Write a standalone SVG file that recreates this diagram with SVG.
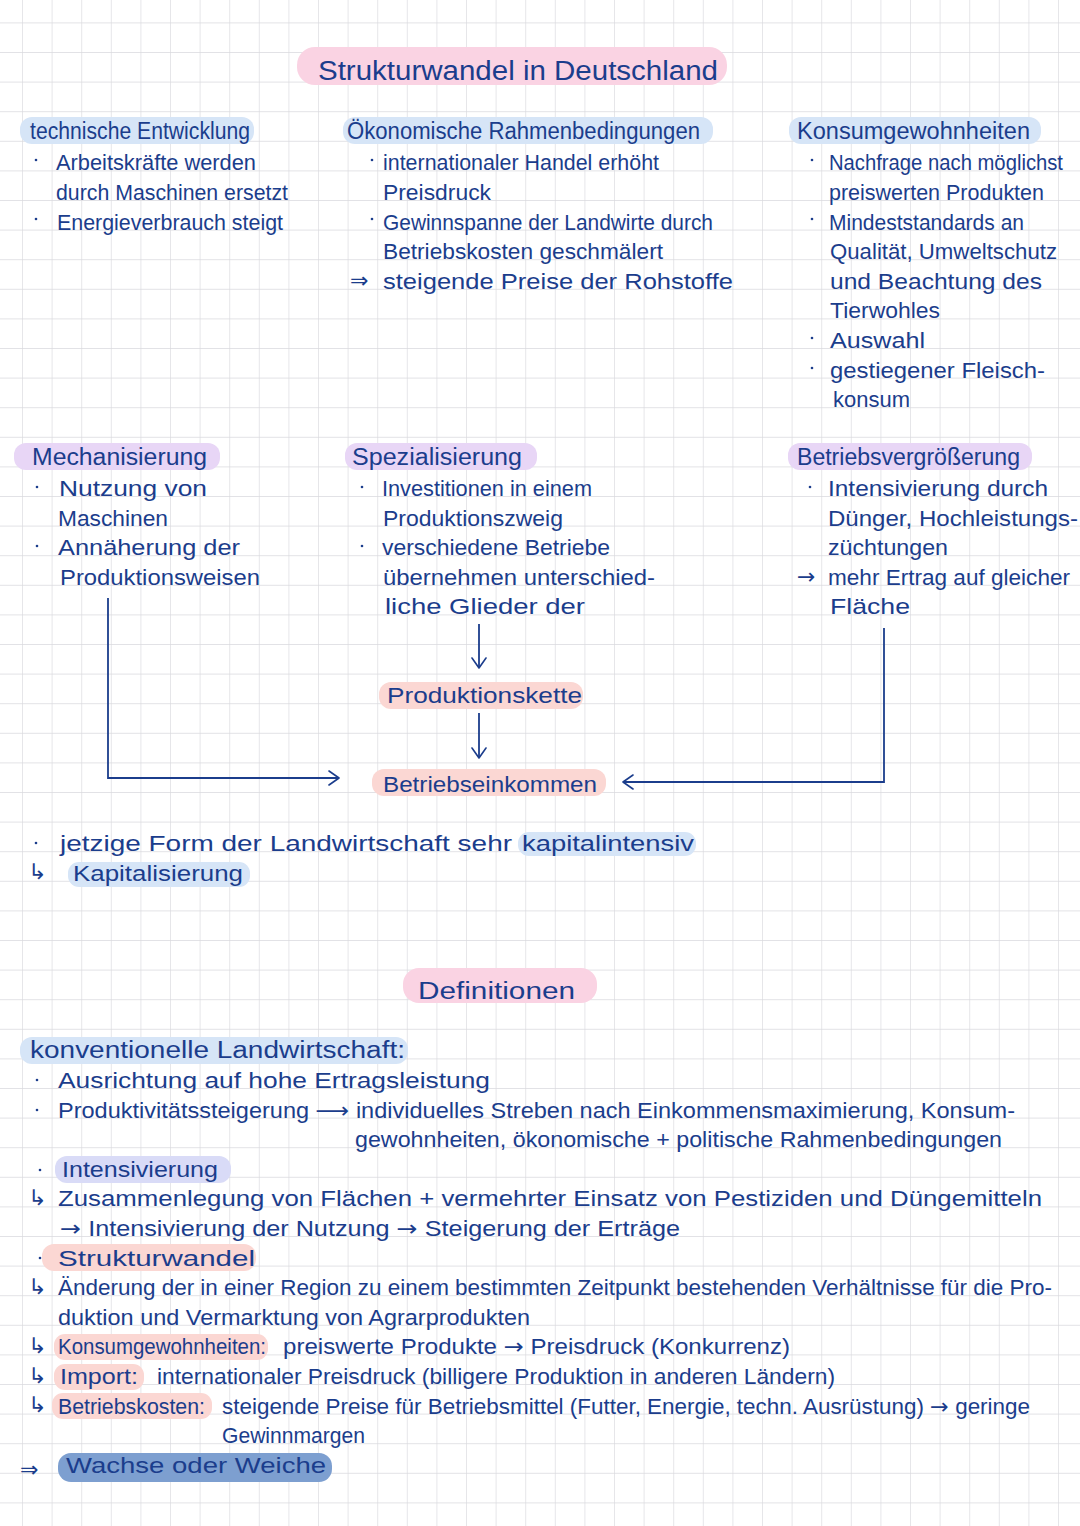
<svg xmlns="http://www.w3.org/2000/svg" width="1080" height="1526" viewBox="0 0 1080 1526">
<defs>
<pattern id="grid" x="22" y="22.4" width="29.6" height="29.6" patternUnits="userSpaceOnUse">
<path d="M0,0 H29.6 M0,0 V29.6" fill="none" stroke="#d9d9de" stroke-width="1.3"/>
</pattern>
<marker id="chev" viewBox="0 0 12 16" refX="11" refY="8" markerWidth="12" markerHeight="16" markerUnits="userSpaceOnUse" orient="auto">
<path d="M1,1 L11,8 L1,15" fill="none" stroke="#1b3d8c" stroke-width="1.6" stroke-linecap="round" stroke-linejoin="round"/>
</marker>
<style>
.t{font-family:"Liberation Sans","DejaVu Sans",sans-serif;fill:#1b3d8c;font-size:22px}
.h{font-size:23px}
.ti{font-size:27px}
.ar{font-family:"DejaVu Sans",sans-serif}
.pink{fill:#fad3e3}
.blue{fill:#d6e5f7}
.purple{fill:#e8d6f6}
.salmon{fill:#fbd7d3}
.lav{fill:#d9dbf7}
.dark{fill:#7d9fd0}
.dot{fill:#1b3d8c}
.conn{fill:none;stroke:#1b3d8c;stroke-width:1.8}
</style>
</defs>
<rect width="1080" height="1526" fill="#ffffff"/>
<rect width="1080" height="1526" fill="url(#grid)"/>

<g id="title">
<rect class="pink" x="297" y="47" width="430" height="38" rx="18"/>
<text class="t ti" x="318" y="80" textLength="400" lengthAdjust="spacingAndGlyphs">Strukturwandel in Deutschland</text>
</g>

<g id="technische-entwicklung">
<rect class="blue" x="20" y="117" width="234" height="27" rx="12"/>
<text class="t h" x="30" y="139" textLength="220" lengthAdjust="spacingAndGlyphs">technische Entwicklung</text>
<circle class="dot" cx="36" cy="160" r="1.3"/>
<text class="t" x="56" y="170.4" textLength="200" lengthAdjust="spacingAndGlyphs">Arbeitskräfte werden</text>
<text class="t" x="56" y="200" textLength="232" lengthAdjust="spacingAndGlyphs">durch Maschinen ersetzt</text>
<circle class="dot" cx="36" cy="219" r="1.3"/>
<text class="t" x="57" y="229.6" textLength="226" lengthAdjust="spacingAndGlyphs">Energieverbrauch steigt</text>
</g>

<g id="oekonomische-rahmenbedingungen">
<rect class="blue" x="343" y="117" width="370" height="27" rx="12"/>
<text class="t h" x="347" y="139" textLength="353" lengthAdjust="spacingAndGlyphs">Ökonomische Rahmenbedingungen</text>
<circle class="dot" cx="372" cy="160" r="1.3"/>
<text class="t" x="383" y="170.4" textLength="276" lengthAdjust="spacingAndGlyphs">internationaler Handel erhöht</text>
<text class="t" x="383" y="200" textLength="108" lengthAdjust="spacingAndGlyphs">Preisdruck</text>
<circle class="dot" cx="372" cy="219" r="1.3"/>
<text class="t" x="383" y="229.6" textLength="330" lengthAdjust="spacingAndGlyphs">Gewinnspanne der Landwirte durch</text>
<text class="t" x="383" y="259.2" textLength="280" lengthAdjust="spacingAndGlyphs">Betriebskosten geschmälert</text>
<text class="t ar" x="350" y="288" font-size="26">⇒</text>
<text class="t" x="383" y="288.8" textLength="350" lengthAdjust="spacingAndGlyphs">steigende Preise der Rohstoffe</text>
</g>

<g id="konsumgewohnheiten">
<rect class="blue" x="789" y="117" width="252" height="27" rx="12"/>
<text class="t h" x="797" y="139" textLength="233" lengthAdjust="spacingAndGlyphs">Konsumgewohnheiten</text>
<circle class="dot" cx="812" cy="160" r="1.3"/>
<text class="t" x="829" y="170.4" font-size="20" textLength="234" lengthAdjust="spacingAndGlyphs">Nachfrage nach möglichst</text>
<text class="t" x="829" y="200" textLength="215" lengthAdjust="spacingAndGlyphs">preiswerten Produkten</text>
<circle class="dot" cx="812" cy="219" r="1.3"/>
<text class="t" x="829" y="229.6" textLength="195" lengthAdjust="spacingAndGlyphs">Mindeststandards an</text>
<text class="t" x="830" y="259.2" textLength="227" lengthAdjust="spacingAndGlyphs">Qualität, Umweltschutz</text>
<text class="t" x="830" y="288.8" textLength="212" lengthAdjust="spacingAndGlyphs">und Beachtung des</text>
<text class="t" x="830" y="318.4" textLength="110" lengthAdjust="spacingAndGlyphs">Tierwohles</text>
<circle class="dot" cx="812" cy="338" r="1.3"/>
<text class="t" x="830" y="348" textLength="95" lengthAdjust="spacingAndGlyphs">Auswahl</text>
<circle class="dot" cx="812" cy="368" r="1.3"/>
<text class="t" x="830" y="377.6" textLength="215" lengthAdjust="spacingAndGlyphs">gestiegener Fleisch-</text>
<text class="t" x="833" y="407.2" textLength="77" lengthAdjust="spacingAndGlyphs">konsum</text>
</g>

<g id="mechanisierung">
<rect class="purple" x="14" y="443" width="206" height="27" rx="12"/>
<text class="t h" x="32" y="465" textLength="175" lengthAdjust="spacingAndGlyphs">Mechanisierung</text>
<circle class="dot" cx="37" cy="487" r="1.3"/>
<text class="t" x="59" y="496" textLength="148" lengthAdjust="spacingAndGlyphs">Nutzung von</text>
<text class="t" x="58" y="525.6" textLength="110" lengthAdjust="spacingAndGlyphs">Maschinen</text>
<circle class="dot" cx="37" cy="546" r="1.3"/>
<text class="t" x="58" y="555.2" textLength="182" lengthAdjust="spacingAndGlyphs">Annäherung der</text>
<text class="t" x="60" y="584.8" textLength="200" lengthAdjust="spacingAndGlyphs">Produktionsweisen</text>
</g>

<g id="spezialisierung">
<rect class="purple" x="345" y="443" width="192" height="27" rx="12"/>
<text class="t h" x="352" y="465" textLength="170" lengthAdjust="spacingAndGlyphs">Spezialisierung</text>
<circle class="dot" cx="362" cy="487" r="1.3"/>
<text class="t" x="382" y="496" textLength="210" lengthAdjust="spacingAndGlyphs">Investitionen in einem</text>
<text class="t" x="383" y="525.6" textLength="180" lengthAdjust="spacingAndGlyphs">Produktionszweig</text>
<circle class="dot" cx="362" cy="546" r="1.3"/>
<text class="t" x="382" y="555.2" textLength="228" lengthAdjust="spacingAndGlyphs">verschiedene Betriebe</text>
<text class="t" x="383" y="584.8" textLength="272" lengthAdjust="spacingAndGlyphs">übernehmen unterschied-</text>
<text class="t" x="385" y="614.4" textLength="200" lengthAdjust="spacingAndGlyphs">liche Glieder der</text>
</g>

<g id="betriebsvergroesserung">
<rect class="purple" x="788" y="443" width="244" height="27" rx="12"/>
<text class="t h" x="797" y="465" textLength="223" lengthAdjust="spacingAndGlyphs">Betriebsvergrößerung</text>
<circle class="dot" cx="810" cy="487" r="1.3"/>
<text class="t" x="828" y="496" textLength="220" lengthAdjust="spacingAndGlyphs">Intensivierung durch</text>
<text class="t" x="828" y="525.6" textLength="250" lengthAdjust="spacingAndGlyphs">Dünger, Hochleistungs-</text>
<text class="t" x="828" y="555.2" textLength="120" lengthAdjust="spacingAndGlyphs">züchtungen</text>
<text class="t ar" x="797" y="584" font-size="20">→</text>
<text class="t" x="828" y="584.8" textLength="242" lengthAdjust="spacingAndGlyphs">mehr Ertrag auf gleicher</text>
<text class="t" x="830" y="614.4" textLength="80" lengthAdjust="spacingAndGlyphs">Fläche</text>
</g>

<g id="produktionskette">
<rect class="salmon" x="379" y="682" width="204" height="27" rx="12"/>
<text class="t" x="387" y="703.2" textLength="195" lengthAdjust="spacingAndGlyphs">Produktionskette</text>
</g>

<g id="betriebseinkommen">
<rect class="salmon" x="372" y="769" width="234" height="27" rx="12"/>
<text class="t" x="383" y="792" textLength="214" lengthAdjust="spacingAndGlyphs">Betriebseinkommen</text>
</g>

<g id="connectors">
<path class="conn" d="M479,624 V668" marker-end="url(#chev)"/>
<path class="conn" d="M479,713 V758" marker-end="url(#chev)"/>
<path class="conn" d="M108,598 V778 H339" marker-end="url(#chev)"/>
<path class="conn" d="M884,628 V782 H623" marker-end="url(#chev)"/>
</g>

<g id="kapital">
<rect class="blue" x="518" y="832" width="178" height="24" rx="11"/>
<circle class="dot" cx="36" cy="843" r="1.3"/>
<text class="t" x="60" y="851.2" textLength="452" lengthAdjust="spacingAndGlyphs">jetzige Form der Landwirtschaft sehr</text>
<text class="t" x="522" y="851.2" textLength="172" lengthAdjust="spacingAndGlyphs">kapitalintensiv</text>
<text class="t ar" x="28" y="879" font-size="17">↳</text>
<rect class="blue" x="68" y="862" width="182" height="25" rx="11"/>
<text class="t" x="73" y="880.8" textLength="170" lengthAdjust="spacingAndGlyphs">Kapitalisierung</text>
</g>

<g id="definitionen">
<rect class="pink" x="403" y="968" width="194" height="35" rx="16"/>
<text class="t h" x="418" y="999.2" textLength="157" lengthAdjust="spacingAndGlyphs">Definitionen</text>
</g>

<g id="definitions-text">
<rect class="blue" x="20" y="1037" width="388" height="27" rx="12"/>
<text class="t h" x="30" y="1058.4" textLength="375" lengthAdjust="spacingAndGlyphs">konventionelle Landwirtschaft:</text>
<circle class="dot" cx="37" cy="1080" r="1.3"/>
<text class="t" x="58" y="1088" textLength="432" lengthAdjust="spacingAndGlyphs">Ausrichtung auf hohe Ertragsleistung</text>
<circle class="dot" cx="37" cy="1110" r="1.3"/>
<text class="t" x="58" y="1117.6" textLength="957" lengthAdjust="spacingAndGlyphs">Produktivitätssteigerung <tspan class="ar">⟶</tspan> individuelles Streben nach Einkommensmaximierung, Konsum-</text>
<text class="t" x="355" y="1147.2" textLength="647" lengthAdjust="spacingAndGlyphs">gewohnheiten, ökonomische + politische Rahmenbedingungen</text>

<rect class="lav" x="55" y="1156" width="176" height="27" rx="12"/>
<circle class="dot" cx="40" cy="1170" r="1.3"/>
<text class="t" x="62" y="1176.8" textLength="156" lengthAdjust="spacingAndGlyphs">Intensivierung</text>
<text class="t ar" x="28" y="1205" font-size="17">↳</text>
<text class="t" x="58" y="1206.4" textLength="984" lengthAdjust="spacingAndGlyphs">Zusammenlegung von Flächen + vermehrter Einsatz von Pestiziden und Düngemitteln</text>
<text class="t" x="60" y="1236" textLength="620" lengthAdjust="spacingAndGlyphs"><tspan class="ar">→</tspan> Intensivierung der Nutzung <tspan class="ar">→</tspan> Steigerung der Erträge</text>

<rect class="salmon" x="42" y="1244" width="214" height="27" rx="12"/>
<circle class="dot" cx="40" cy="1258" r="1.3"/>
<text class="t" x="58" y="1265.6" textLength="197" lengthAdjust="spacingAndGlyphs">Strukturwandel</text>
<text class="t ar" x="28" y="1294" font-size="17">↳</text>
<text class="t" x="58" y="1295.2" textLength="994" lengthAdjust="spacingAndGlyphs">Änderung der in einer Region zu einem bestimmten Zeitpunkt bestehenden Verhältnisse für die Pro-</text>
<text class="t" x="58" y="1324.8" textLength="472" lengthAdjust="spacingAndGlyphs">duktion und Vermarktung von Agrarprodukten</text>

<text class="t ar" x="28" y="1353" font-size="17">↳</text>
<rect class="salmon" x="54" y="1334" width="214" height="26" rx="11"/>
<text class="t" x="58" y="1354.4" textLength="208" lengthAdjust="spacingAndGlyphs">Konsumgewohnheiten:</text>
<text class="t" x="283" y="1354.4" textLength="507" lengthAdjust="spacingAndGlyphs">preiswerte Produkte <tspan class="ar">→</tspan> Preisdruck (Konkurrenz)</text>

<text class="t ar" x="28" y="1383" font-size="17">↳</text>
<rect class="salmon" x="54" y="1364" width="90" height="26" rx="11"/>
<text class="t" x="60" y="1384" textLength="78" lengthAdjust="spacingAndGlyphs">Import:</text>
<text class="t" x="157" y="1384" textLength="678" lengthAdjust="spacingAndGlyphs">internationaler Preisdruck (billigere Produktion in anderen Ländern)</text>

<text class="t ar" x="28" y="1412" font-size="17">↳</text>
<rect class="salmon" x="52" y="1393" width="160" height="26" rx="11"/>
<text class="t" x="58" y="1413.6" textLength="147" lengthAdjust="spacingAndGlyphs">Betriebskosten:</text>
<text class="t" x="222" y="1413.6" textLength="808" lengthAdjust="spacingAndGlyphs">steigende Preise für Betriebsmittel (Futter, Energie, techn. Ausrüstung) <tspan class="ar">→</tspan> geringe</text>
<text class="t" x="222" y="1443.2" textLength="143" lengthAdjust="spacingAndGlyphs">Gewinnmargen</text>

<text class="t ar" x="20" y="1477" font-size="32">⇒</text>
<rect class="dark" x="58" y="1453" width="274" height="29" rx="13"/>
<text class="t" x="66" y="1472.8" textLength="260" lengthAdjust="spacingAndGlyphs">Wachse oder Weiche</text>
</g>
</svg>
